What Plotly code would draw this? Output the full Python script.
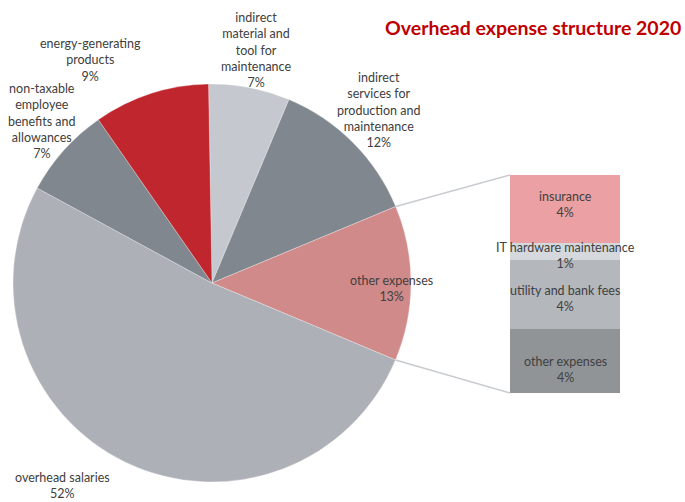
import plotly.graph_objects as go
import math

# ---------------- data ----------------
pie_labels = ["indirect<br>material and<br>tool for<br>maintenance",
              "indirect<br>services for<br>production and<br>maintenance",
              "other expenses",
              "overhead salaries",
              "non-taxable<br>employee<br>benefits and<br>allowances",
              "energy-generating<br>products"]
pie_values = [6.6, 12.4, 12.6, 51.6, 7.4, 9.4]
pie_colors = ["#C5C8CE", "#80878E", "#D08A8A", "#ADB0B7", "#80878E", "#C0262D"]

bar_labels = ["other expenses", "utility and bank fees", "IT hardware maintenance", "insurance"]
bar_values = [3.8, 4.15, 1.0, 4.05]
bar_colors = ["#909497", "#B4B7BC", "#D5D8DC", "#EBA1A3"]

title_text = "Overhead expense structure 2020"

# ---------------- layout constants (pixels) ----------------
W, H = 685, 502
cx, cy, R = 212, 283, 199
ROT = -1
bar_x0, bar_x1, bar_y0, bar_y1 = 510, 620, 175, 393
label_pos = [(256, 50), (378, 110), (392, 288), (63, 485), (42, 121), (90, 60)]
bar_label_shift = [-8, -4, -4, 4]   # pixel yshift of each bar label (plotly: +up)
TXT = "#404040"
FONT = "Lato"
FS = 12.5

def px(x):
    return x / W

def py(y):
    return 1 - y / H

fig = go.Figure()

fig.add_trace(go.Pie(
    labels=[l.replace("<br>", " ") for l in pie_labels],
    values=pie_values,
    marker=dict(colors=pie_colors, line=dict(color="rgba(255,255,255,0.6)", width=0.5)),
    sort=False, direction="clockwise", rotation=ROT,
    textinfo="none", hoverinfo="label+percent",
    domain=dict(x=[px(cx - R), px(cx + R)], y=[py(cy + R), py(cy - R)]),
    showlegend=False,
))

for lab, val, col in zip(bar_labels, bar_values, bar_colors):
    fig.add_trace(go.Bar(
        x=[0], y=[val], marker=dict(color=col, line=dict(width=0)),
        width=1, showlegend=False, xaxis="x", yaxis="y",
        hovertext=[f"{lab}: {val:.0f}%"], hoverinfo="text",
    ))

total = sum(pie_values)
idx = pie_labels.index("other expenses")
start_frac = sum(pie_values[:idx]) / total
end_frac = sum(pie_values[:idx + 1]) / total

def pie_point(frac):
    a = frac * 2 * math.pi + math.radians(ROT)
    return cx + R * math.sin(a), cy - R * math.cos(a)

p1 = pie_point(start_frac)
p2 = pie_point(end_frac)
shapes = [
    dict(type="line", xref="paper", yref="paper", x0=px(p1[0]), y0=py(p1[1]),
         x1=px(bar_x0), y1=py(bar_y0), line=dict(color="#C8CBD0", width=1.5)),
    dict(type="line", xref="paper", yref="paper", x0=px(p2[0]), y0=py(p2[1]),
         x1=px(bar_x0), y1=py(bar_y1), line=dict(color="#C8CBD0", width=1.5)),
]

annotations = []
for lab, val, (lx, ly) in zip(pie_labels, pie_values, label_pos):
    annotations.append(dict(
        text=f"{lab}<br>{val:.0f}%", x=px(lx), y=py(ly), xref="paper", yref="paper",
        xanchor="center", yanchor="middle", showarrow=False, align="center",
        font=dict(color=TXT, size=FS, family=FONT)))

cum = 0
for lab, val, ys in zip(bar_labels, bar_values, bar_label_shift):
    annotations.append(dict(
        text=f"{lab}<br>{val:.0f}%", x=0, y=cum + val / 2, xref="x", yref="y",
        xanchor="center", yanchor="middle", showarrow=False, align="center", yshift=ys,
        font=dict(color=TXT, size=FS, family=FONT)))
    cum += val

annotations.append(dict(
    text=f"<b>{title_text}</b>", x=px(683), y=py(28), xref="paper", yref="paper",
    xanchor="right", yanchor="middle", showarrow=False,
    font=dict(color="#C00000", size=19.5, family=FONT)))

fig.update_layout(
    width=W, height=H, margin=dict(l=0, r=0, t=0, b=0),
    paper_bgcolor="white", plot_bgcolor="white",
    barmode="stack", bargap=0,
    xaxis=dict(domain=[px(bar_x0), px(bar_x1)], range=[-0.5, 0.5], visible=False, fixedrange=True),
    yaxis=dict(domain=[py(bar_y1), py(bar_y0)], range=[0, sum(bar_values)], visible=False, fixedrange=True),
    shapes=shapes, annotations=annotations,
)

fig.write_html("out.html", config={"displayModeBar": False})

# remove default page margin so the figure sits at the window's top-left corner
with open("out.html", "r", encoding="utf-8") as f:
    html = f.read()
html = html.replace("<head>", "<head><style>html,body{margin:0;padding:0;overflow:hidden;}</style>", 1)
with open("out.html", "w", encoding="utf-8") as f:
    f.write(html)
